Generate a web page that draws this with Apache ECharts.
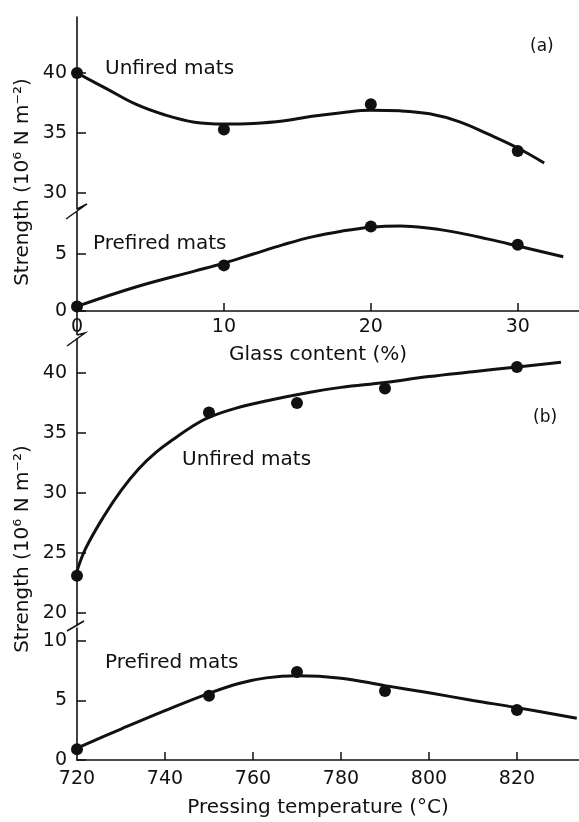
<!DOCTYPE html>
<html>
<head>
<meta charset="utf-8">
<script src="https://cdn.jsdelivr.net/npm/echarts@6/dist/echarts.min.js"></script>
<style>
  html, body { margin: 0; padding: 0; background: #fff; }
  #chart { width: 579px; height: 822px; }
</style>
</head>
<body>
<div id="chart"></div>
<script>
// panel (a): strength vs glass content
const glassPts = [0, 10, 20, 30]
const unfiredA = [40.0, 35.3, 37.4, 33.5]
const prefiredA = [0.4, 4.0, 7.4, 5.8]
const glassCurveUnf = [0, 2, 4, 6, 8, 10, 12, 14, 16, 18, 20, 22, 24, 26, 28, 30, 31.8]
const unfiredACurve = [40.0, 38.7, 37.4, 36.5, 35.9, 35.75, 35.8, 36.0, 36.4, 36.7, 36.9, 36.85, 36.6, 35.95, 34.9, 33.75, 32.5]
const glassCurvePre = [0, 4, 8, 10, 12, 14, 16, 18, 20, 22, 24, 26, 28, 30, 33.1]
const prefiredACurve = [0.4, 2.1, 3.5, 4.2, 5.0, 5.8, 6.5, 7.0, 7.35, 7.45, 7.25, 6.85, 6.3, 5.7, 4.75]

// panel (b): strength vs pressing temperature
const tempPts = [720, 750, 770, 790, 820]
const unfiredB = [23.1, 36.7, 37.5, 38.7, 40.5]
const prefiredB = [0.9, 5.4, 7.4, 5.8, 4.2]
const tempCurveUnf = [720, 722, 726, 730, 734, 738, 742, 746, 750, 756, 764, 773, 780, 790, 800, 810, 820, 830]
const unfiredBCurve = [23.5, 25.4, 28.0, 30.2, 32.0, 33.4, 34.5, 35.5, 36.3, 37.05, 37.75, 38.4, 38.8, 39.2, 39.7, 40.1, 40.5, 40.9]
const tempCurvePre = [720, 730, 740, 750, 757, 763, 770, 780, 790, 800, 810, 820, 833.6]
const prefiredBCurve = [1.0, 2.6, 4.15, 5.6, 6.45, 6.9, 7.07, 6.87, 6.25, 5.65, 5.0, 4.4, 3.5]

// tick labels
const glassTicks = [0, 10, 20, 30]
const tempTicks = [720, 740, 760, 780, 800, 820]
const yTicksAUp = [30, 35, 40]
const yTicksALow = [0, 5]
const yTicksBUp = [20, 25, 30, 35, 40]
const yTicksBLow = [0, 5, 10]

const ink = '#111'
const font = 'DejaVu Sans'

const zip = (xs, ys) => xs.map((x, i) => [x, ys[i]])

const chart = echarts.init(document.getElementById('chart'))

function xAxisOf (gridIndex, min, max, show, ticks, labelMargin, name, nameGap) {
  return {
    type: 'value',
    gridIndex,
    min,
    max,
    show,
    name,
    nameLocation: 'middle',
    nameGap,
    nameTextStyle: { color: ink, fontFamily: font, fontSize: 20, padding: [0, 20, 0, 0] },
    axisLine: { show: true, lineStyle: { color: ink, width: 1.6 } },
    axisTick: { show: true, inside: true, length: 8, customValues: ticks.slice(1), lineStyle: { color: ink, width: 1.5 } },
    axisLabel: { customValues: ticks, margin: labelMargin, color: ink, fontFamily: font, fontSize: 19 },
    splitLine: { show: false }
  }
}

function yAxisOf (gridIndex, min, max, ticks) {
  return {
    type: 'value',
    gridIndex,
    min,
    max,
    axisLine: { show: true, lineStyle: { color: ink, width: 1.6 } },
    axisTick: { show: true, inside: true, length: 9, customValues: ticks, lineStyle: { color: ink, width: 1.5 } },
    axisLabel: { customValues: ticks, margin: 10, color: ink, fontFamily: font, fontSize: 19 },
    splitLine: { show: false }
  }
}

function curve (xi, data) {
  return {
    type: 'line',
    xAxisIndex: xi,
    yAxisIndex: xi,
    data,
    smooth: 0.4,
    showSymbol: false,
    silent: true,
    lineStyle: { color: ink, width: 3 }
  }
}

function dots (xi, data) {
  return {
    type: 'scatter',
    xAxisIndex: xi,
    yAxisIndex: xi,
    data,
    symbolSize: 12,
    itemStyle: { color: ink, opacity: 1 }
  }
}

function label (text, x, y, size) {
  return {
    type: 'text',
    x,
    y,
    style: { text, fill: ink, font: size + 'px "' + font + '"', textAlign: 'left', textVerticalAlign: 'middle' }
  }
}

function yName (x, y) {
  return {
    type: 'text',
    x,
    y,
    rotation: Math.PI / 2,
    style: { text: 'Strength (10⁶ N m⁻²)', fill: ink, font: '20px "' + font + '"', textAlign: 'center', textVerticalAlign: 'middle' }
  }
}

function zigzag (points) {
  return {
    type: 'polyline',
    shape: { points },
    style: { stroke: ink, lineWidth: 1.5, fill: null }
  }
}

chart.setOption({
  backgroundColor: '#fff',
  animation: false,
  grid: [
    { left: 77, width: 502, top: 17, height: 192 },
    { left: 77, width: 502, top: 212, height: 99 },
    { left: 77, width: 502, top: 339, height: 286 },
    { left: 77, width: 502, top: 628, height: 132 }
  ],
  xAxis: [
    xAxisOf(0, 0, 34.17, false, glassTicks, 7, '', 0),
    xAxisOf(1, 0, 34.17, true, glassTicks, 7, 'Glass content (%)', 34),
    xAxisOf(2, 720, 834.1, false, tempTicks, 10, '', 0),
    xAxisOf(3, 720, 834.1, true, tempTicks, 10, 'Pressing temperature (°C)', 38)
  ],
  yAxis: [
    yAxisOf(0, 28.67, 44.67, yTicksAUp),
    yAxisOf(1, 0, 8.68, yTicksALow),
    yAxisOf(2, 19.0, 42.83, yTicksBUp),
    yAxisOf(3, 0, 11.09, yTicksBLow)
  ],
  series: [
    curve(0, zip(glassCurveUnf, unfiredACurve)),
    dots(0, zip(glassPts, unfiredA)),
    curve(1, zip(glassCurvePre, prefiredACurve)),
    dots(1, zip(glassPts, prefiredA)),
    curve(2, zip(tempCurveUnf, unfiredBCurve)),
    dots(2, zip(tempPts, unfiredB)),
    curve(3, zip(tempCurvePre, prefiredBCurve)),
    dots(3, zip(tempPts, prefiredB))
  ],
  graphic: [
    label('Unfired mats', 105, 69, 20),
    label('Prefired mats', 93, 244, 20),
    label('(a)', 530, 47, 17),
    label('Unfired mats', 182, 460, 20),
    label('Prefired mats', 105, 663, 20),
    label('(b)', 533, 418, 17),
    yName(23, 182),
    yName(23, 549),
    zigzag([[77, 209], [87, 204], [66, 219]]),
    { type: 'line', shape: { x1: 77, y1: 311, x2: 77, y2: 335 }, style: { stroke: ink, lineWidth: 1.6 } },
    zigzag([[77, 335], [85, 333], [67, 346]]),
    zigzag([[77, 625], [84, 621], [67, 631]])
  ]
})
</script>
</body>
</html>
